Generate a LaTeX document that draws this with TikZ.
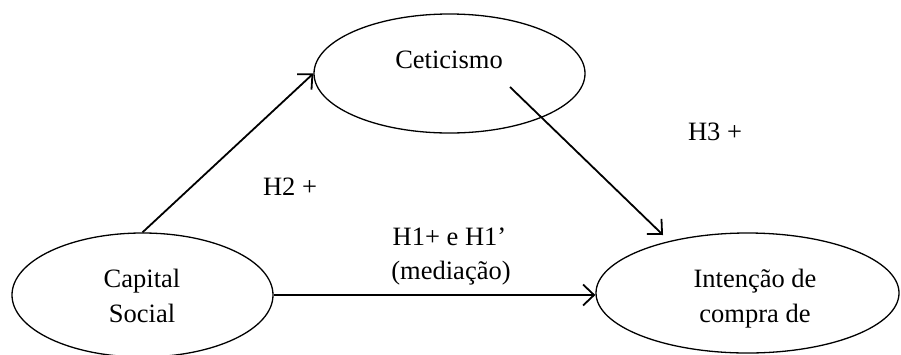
\documentclass[tikz,border=0pt]{standalone}
\usepackage{fontspec}
\setmainfont{Liberation Serif}
\usetikzlibrary{arrows.meta,shapes.geometric}
\begin{document}
\begin{tikzpicture}[x=1pt,y=-1pt,
  oval/.style={draw,ellipse,line width=1.3pt,inner sep=0pt},
  txt/.style={anchor=base,inner sep=0pt,font=\fontsize{26.5}{35}\selectfont},
  conn/.style={line width=1.8pt,-{Straight Barb[length=11pt,width=21pt,line width=1.8pt]}}]
\useasboundingbox (0,0) rectangle (901,354);
\node[oval,minimum width=271pt,minimum height=119pt] (cet) at (449.5,73.5) {};
\node[oval,minimum width=261pt,minimum height=124pt] (cap) at (142.5,295) {};
\node[oval,minimum width=303pt,minimum height=120pt] (int) at (747.5,293) {};
\node[txt] (tcet) at (449,68) {Ceticismo};
\node[txt] (tcap1) at (142,287) {Capital};
\node[txt] (tcap2) at (142,322) {Social};
\node[txt] (tint1) at (755,287) {Intenção de};
\node[txt] (tint2) at (755,322) {compra de};
\node[txt] (h2) at (290,195) {H2 +};
\node[txt] (h3) at (715,140) {H3 +};
\node[txt] (h1a) at (449.5,245) {H1+ e H1’};
\node[txt] (h1b) at (451,279) {(mediação)};
\coordinate (h3s) at (510,87);
\coordinate (h3e) at (663,235);
\draw[conn] (cap.north) -- (cet.west);
\draw[conn] (h3s) -- (h3e);
\draw[conn] (cap.east) -- (cap.east -| int.west);
\end{tikzpicture}
\end{document}
